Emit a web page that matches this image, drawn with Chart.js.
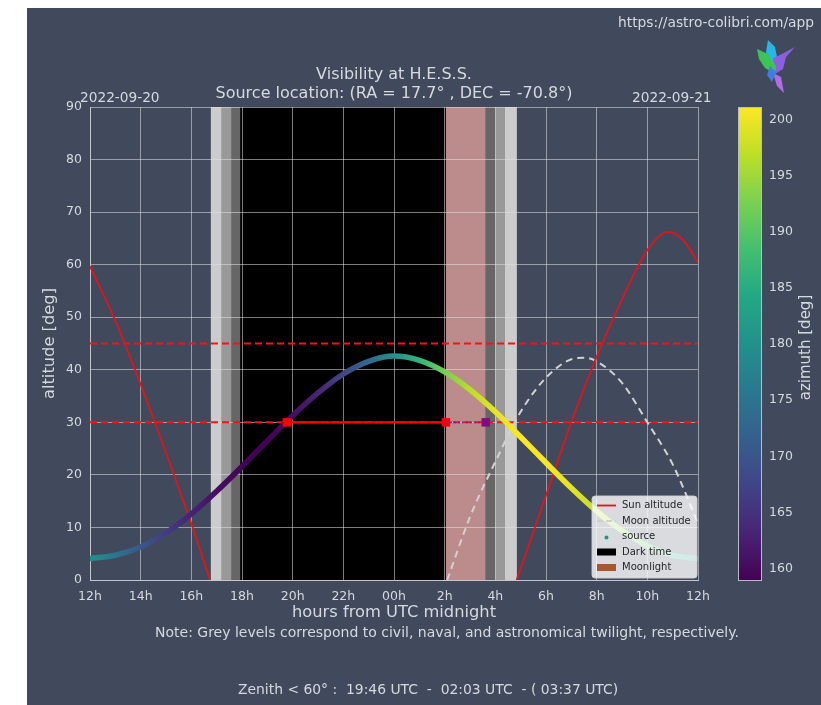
<!DOCTYPE html>
<html>
<head>
<meta charset="utf-8">
<script src="https://cdn.jsdelivr.net/npm/chart.js@4.4.0/dist/chart.umd.min.js"></script>
<style>
    html, body { margin: 0; padding: 0; background: #ffffff; }
    #panel { position: absolute; left: 27px; top: 8px; width: 794px; height: 697px; background: #414a5c; }
    #contenedor { position: absolute; left: 0; top: 0; width: 821px; height: 705px; }
</style>
</head>
<body>
<div id="panel"></div>
<div id="contenedor"><canvas id="chartVisibilidad" width="821" height="705"></canvas></div>
<script>
// ================== DATOS ==================
// Fuente: altitud y azimut cada hora (12h -> 12h del día siguiente)
const horas = [12, 13, 14, 15, 16, 17, 18, 19, 20, 21, 22, 23, 24, 25, 26, 27, 28, 29, 30, 31, 32, 33, 34, 35, 36];
const altitudFuente = [4.1, 4.7, 6.3, 9.0, 12.6, 16.9, 21.6, 26.5, 31.3, 35.6, 39.2, 41.6, 42.6, 41.8, 39.6, 36.2, 32.0, 27.2, 22.3, 17.5, 13.1, 9.4, 6.5, 4.7, 4.1];
const azimutFuente = [180.0, 175.1, 170.5, 166.4, 163.0, 160.6, 159.2, 159.1, 160.5, 163.3, 167.7, 173.5, 180.0, 186.5, 192.3, 196.7, 199.5, 200.9, 200.8, 199.4, 197.0, 193.6, 189.5, 184.9, 180.0];

// Sol (null = bajo el horizonte)
const horasSol = [12, 13, 14, 15, 16, 16.74, 22, 28.84, 29, 30, 31, 32, 33, 34, 34.8, 35, 35.5, 36];
const altitudSol = [59.7, 49.3, 37.2, 24.2, 10.7, 0, null, 0, 2.2, 16.1, 30, 42.5, 53.4, 62.8, 66.2, 66.1, 64.2, 60.4];

// Luna
const horasLuna = [26.1, 27, 28, 29, 30, 31, 31.5, 32, 33, 34, 35, 36];
const altitudLuna = [0, 12, 22.5, 32, 38.5, 42, 42.3, 41.6, 37.5, 30, 22, 10.8];

// Límites horizontales (altitud)
const limitesAltitud = [45, 30];

// Crepúsculos: puesta, civil, náutico, astronómico (tarde) / inverso (mañana)
const crepusculoTarde = [16.77, 17.20, 17.59, 17.93];
const crepusculoManana = [27.62, 27.99, 28.38, 28.85];
const tiempoOscuro = [17.93, 26.05];
const luzLunar = [26.05, 27.62];

// Ventana zenit < 60°: 19:46 - 02:03 - (03:37)
const ventanaZenit = [19.77, 26.05, 27.62];

const etiquetasX = ['12h', '14h', '16h', '18h', '20h', '22h', '00h', '2h', '4h', '6h', '8h', '10h', '12h'];
const rangoAzimut = [159.0, 201.1];

// ================== COLORES ==================
const viridis = ['#440154', '#482475', '#414487', '#355f8d', '#2a788e', '#21918c', '#22a884', '#44bf70', '#7ad151', '#bddf26', '#fde725'];
const colorTexto = '#d6d9df';
const fuente = 'DejaVu Sans';

function hexRgb(h) {
    return [parseInt(h.slice(1, 3), 16), parseInt(h.slice(3, 5), 16), parseInt(h.slice(5, 7), 16)];
}

function colorViridis(t) {
    t = Math.max(0, Math.min(1, t));
    const p = t * 10;
    const i = Math.min(9, Math.floor(p));
    const f = p - i;
    const a = hexRgb(viridis[i]), b = hexRgb(viridis[i + 1]);
    const c = a.map((v, k) => Math.round(v + (b[k] - v) * f));
    return `rgb(${c[0]},${c[1]},${c[2]})`;
}

function normAzimut(az) {
    return (az - rangoAzimut[0]) / (rangoAzimut[1] - rangoAzimut[0]);
}

function gradienteFuente(chart) {
    if (!chart.chartArea || !chart.scales.x) return '#21918c';
    const x = chart.scales.x;
    const g = chart.ctx.createLinearGradient(x.getPixelForValue(horas[0]), 0, x.getPixelForValue(horas[horas.length - 1]), 0);
    horas.forEach((h, i) => {
        g.addColorStop((h - horas[0]) / (horas[horas.length - 1] - horas[0]), colorViridis(normAzimut(azimutFuente[i])));
    });
    return g;
}

const puntos = (xs, ys) => xs.map((x, i) => ({ x: x, y: ys[i] }));

// ================== PLUGINS ==================
const pluginBandas = {
    id: 'bandas',
    beforeDraw(chart) {
        const { ctx, chartArea: a, scales: { x } } = chart;
        const banda = (ini, fin, color) => {
            const x0 = x.getPixelForValue(ini), x1 = x.getPixelForValue(fin);
            ctx.fillStyle = color;
            ctx.fillRect(x0, a.top, x1 - x0, a.bottom - a.top);
        };
        ctx.save();
        banda(crepusculoTarde[0], crepusculoTarde[1], '#cccccc');
        banda(crepusculoTarde[1], crepusculoTarde[2], '#999999');
        banda(crepusculoTarde[2], crepusculoTarde[3], '#666666');
        banda(tiempoOscuro[0], tiempoOscuro[1], '#000000');
        banda(luzLunar[0], luzLunar[1], '#bc8b8b');
        banda(crepusculoManana[0], crepusculoManana[1], '#666666');
        banda(crepusculoManana[1], crepusculoManana[2], '#999999');
        banda(crepusculoManana[2], crepusculoManana[3], '#cccccc');
        ctx.restore();
    }
};

const pluginDecoracion = {
    id: 'decoracion',
    afterDraw(chart) {
        const { ctx, scales: { az } } = chart;
        ctx.save();

        // Textos
        ctx.fillStyle = colorTexto;
        ctx.textBaseline = 'middle';
        ctx.font = `13.8px ${fuente}`;
        ctx.textAlign = 'right';
        ctx.fillText('https://astro-colibri.com/app', 814, 23);
        ctx.textAlign = 'center';
        ctx.font = `16px ${fuente}`;
        ctx.fillText('Visibility at H.E.S.S.', 394, 75);
        ctx.fillText('Source location: (RA = 17.7° , DEC = -70.8°)', 394, 94);
        ctx.textAlign = 'left';
        ctx.font = `13.7px ${fuente}`;
        ctx.fillText('2022-09-20', 80, 98);
        ctx.fillText('2022-09-21', 632, 98);
        ctx.font = `14px ${fuente}`;
        ctx.fillText('Note: Grey levels correspond to civil, naval, and astronomical twilight, respectively.', 155, 633);
        ctx.font = `13.9px ${fuente}`;
        ctx.fillText('Zenith < 60° :  19:46 UTC  -  02:03 UTC  - ( 03:37 UTC)', 238, 690);

        // Barra de color
        const yTop = az.getPixelForValue(rangoAzimut[1]);
        const yBot = az.getPixelForValue(rangoAzimut[0]);
        const gb = ctx.createLinearGradient(0, yBot, 0, yTop);
        for (let i = 0; i <= 20; i++) gb.addColorStop(i / 20, colorViridis(i / 20));
        ctx.fillStyle = gb;
        ctx.fillRect(738, yTop, 23, yBot - yTop);
        ctx.strokeStyle = '#b8bcc4';
        ctx.lineWidth = 1;
        ctx.strokeRect(738.5, yTop + 0.5, 23, yBot - yTop);

        ctx.save();
        ctx.translate(806, (yTop + yBot) / 2 + 4);
        ctx.rotate(-Math.PI / 2);
        ctx.textAlign = 'center';
        ctx.fillStyle = colorTexto;
        ctx.font = `15px ${fuente}`;
        ctx.fillText('azimuth [deg]', 0, 0);
        ctx.restore();

        // Leyenda
        const lx = 592, ly = 496, lw = 105, lh = 82;
        ctx.beginPath();
        ctx.roundRect(lx, ly, lw, lh, 3);
        ctx.fillStyle = 'rgba(255,255,255,0.8)';
        ctx.fill();
        ctx.strokeStyle = 'rgba(210,210,210,0.9)';
        ctx.stroke();
        const items = [
            { texto: 'Sun altitude', tipo: 'linea', color: '#e3131b' },
            { texto: 'Moon altitude', tipo: 'guion', color: '#cfcfcf' },
            { texto: 'source', tipo: 'punto', color: '#21918c' },
            { texto: 'Dark time', tipo: 'caja', color: '#000000' },
            { texto: 'Moonlight', tipo: 'caja', color: '#a8582f' }
        ];
        ctx.font = `10px ${fuente}`;
        ctx.textAlign = 'left';
        items.forEach((it, i) => {
            const y = ly + 9.5 + i * 15.5;
            ctx.strokeStyle = it.color;
            ctx.fillStyle = it.color;
            if (it.tipo === 'linea' || it.tipo === 'guion') {
                ctx.lineWidth = 1.8;
                ctx.setLineDash(it.tipo === 'guion' ? [6, 3] : []);
                ctx.beginPath();
                ctx.moveTo(597, y);
                ctx.lineTo(616, y);
                ctx.stroke();
                ctx.setLineDash([]);
            } else if (it.tipo === 'punto') {
                ctx.beginPath();
                ctx.arc(606.5, y + 1, 2, 0, Math.PI * 2);
                ctx.fill();
            } else {
                ctx.fillRect(597, y - 3.5, 19, 7);
            }
            ctx.fillStyle = '#262626';
            ctx.fillText(it.texto, 622, y);
        });

        // Logo (colibrí aproximado)
        const poligono = (pts, color) => {
            ctx.beginPath();
            ctx.moveTo(pts[0][0], pts[0][1]);
            pts.slice(1).forEach(p => ctx.lineTo(p[0], p[1]));
            ctx.closePath();
            ctx.fillStyle = color;
            ctx.fill();
        };
        poligono([[768, 40], [775, 47], [778, 62], [771, 67], [766, 52]], '#29b6e6');
        poligono([[773, 58], [782, 54], [795, 47], [786, 57], [783, 69], [775, 74]], '#8d5fe0');
        poligono([[757, 49], [768, 54], [776, 66], [775, 74], [765, 68], [759, 59]], '#3cc456');
        poligono([[773, 73], [781, 77], [784, 93], [777, 86]], '#b46be8');
        poligono([[770, 66], [776, 72], [772, 82], [767, 75]], '#3d7fe0');

        ctx.restore();
    }
};

// ================== GRÁFICO ==================
const colorGrid = 'rgba(225,225,225,0.55)';

new Chart(document.getElementById('chartVisibilidad'), {
    type: 'line',
    data: {
        datasets: [
            {
                label: 'astro',
                data: puntos([ventanaZenit[1], ventanaZenit[2]], [limitesAltitud[1], limitesAltitud[1]]),
                borderColor: '#8a1a90',
                borderWidth: 1.8,
                borderDash: [2, 2],
                pointStyle: 'rect',
                pointRadius: (c) => c.dataIndex === 1 ? 6 : 0,
                pointBackgroundColor: '#7f0b86',
                pointBorderWidth: 0
            },
            {
                label: 'zenith',
                data: puntos([ventanaZenit[0], ventanaZenit[1]], [limitesAltitud[1], limitesAltitud[1]]),
                borderColor: '#ff0000',
                borderWidth: 2.2,
                pointStyle: 'rect',
                pointRadius: 6,
                pointBackgroundColor: '#ff0000',
                pointBorderWidth: 0
            },
            {
                label: 'source',
                data: puntos(horas, altitudFuente),
                borderColor: (c) => gradienteFuente(c.chart),
                borderWidth: 5.5,
                borderCapStyle: 'round',
                pointRadius: 0,
                cubicInterpolationMode: 'monotone'
            },
            {
                label: 'Sun altitude',
                data: puntos(horasSol, altitudSol),
                borderColor: '#e3131b',
                borderWidth: 1.8,
                pointRadius: 0,
                spanGaps: false,
                cubicInterpolationMode: 'monotone'
            },
            {
                label: 'Moon altitude',
                data: puntos(horasLuna, altitudLuna),
                borderColor: '#d2d2d2',
                borderWidth: 2,
                borderDash: [7, 5],
                pointRadius: 0,
                cubicInterpolationMode: 'monotone'
            },
            ...limitesAltitud.map(v => ({
                label: 'limite ' + v,
                data: puntos([horas[0], horas[horas.length - 1]], [v, v]),
                borderColor: '#ff1010',
                borderWidth: 2,
                borderDash: [7, 4],
                pointRadius: 0
            }))
        ]
    },
    options: {
        responsive: false,
        animation: false,
        layout: { padding: { left: 35, top: 107, right: 0, bottom: 82 } },
        plugins: {
            legend: { display: false },
            tooltip: { enabled: false }
        },
        scales: {
            x: {
                type: 'linear',
                min: 12,
                max: 36,
                grid: { color: colorGrid, drawTicks: false },
                border: { color: '#c3c6cc' },
                ticks: {
                    stepSize: 2,
                    padding: 9,
                    color: colorTexto,
                    font: { family: fuente, size: 12.5 },
                    callback: (v, i) => etiquetasX[i] ?? ''
                },
                title: { display: true, text: 'hours from UTC midnight', color: colorTexto, font: { family: fuente, size: 16.3 }, padding: 0 },
                afterFit: (s) => { s.height = 43; }
            },
            y: {
                min: 0,
                max: 90,
                grid: { color: colorGrid, drawTicks: false },
                border: { color: '#c3c6cc' },
                ticks: { stepSize: 10, padding: 8, color: colorTexto, font: { family: fuente, size: 12.5 } },
                title: { display: true, text: 'altitude [deg]', color: colorTexto, font: { family: fuente, size: 16.3 }, padding: { top: 5 } },
                afterFit: (s) => { s.width = 55; }
            },
            az: {
                position: 'right',
                min: rangoAzimut[0],
                max: rangoAzimut[1],
                grid: { display: false, drawTicks: false },
                border: { display: false },
                ticks: { stepSize: 5, includeBounds: false, padding: 71, color: colorTexto, font: { family: fuente, size: 12.5 } },
                afterFit: (s) => { s.width = 123; }
            }
        }
    },
    plugins: [pluginBandas, pluginDecoracion]
});
</script>
</body>
</html>
